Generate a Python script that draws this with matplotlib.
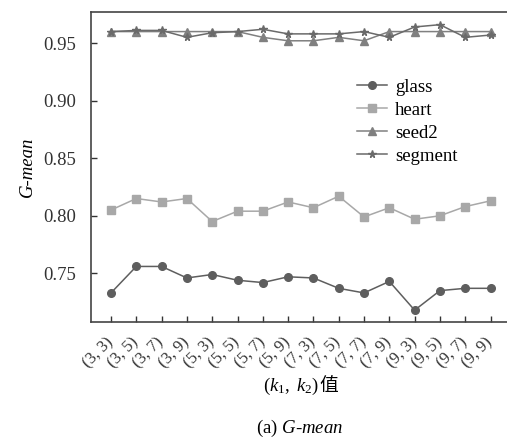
import matplotlib
matplotlib.use("Agg")
import matplotlib.pyplot as plt

plt.rcParams["font.family"] = ["Liberation Serif", "Noto Sans CJK SC"]
plt.rcParams["mathtext.fontset"] = "custom"
plt.rcParams["mathtext.rm"] = "Liberation Serif"
plt.rcParams["mathtext.it"] = "Liberation Serif:italic"

# (k1, k2) 組合
k_pairs = ["(3, 3)", "(3, 5)", "(3, 7)", "(3, 9)",
           "(5, 3)", "(5, 5)", "(5, 7)", "(5, 9)",
           "(7, 3)", "(7, 5)", "(7, 7)", "(7, 9)",
           "(9, 3)", "(9, 5)", "(9, 7)", "(9, 9)"]

glass = [0.733, 0.756, 0.756, 0.746, 0.749, 0.744, 0.742, 0.747,
         0.746, 0.737, 0.733, 0.743, 0.718, 0.735, 0.737, 0.737]
heart = [0.805, 0.815, 0.812, 0.815, 0.795, 0.804, 0.804, 0.812,
         0.807, 0.817, 0.799, 0.807, 0.797, 0.800, 0.808, 0.813]
seed2 = [0.960, 0.960, 0.960, 0.960, 0.960, 0.960, 0.955, 0.952,
         0.952, 0.955, 0.952, 0.960, 0.960, 0.960, 0.960, 0.960]
segment = [0.960, 0.961, 0.961, 0.955, 0.959, 0.960, 0.962, 0.958,
           0.958, 0.958, 0.960, 0.955, 0.964, 0.966, 0.955, 0.957]

fig = plt.figure(figsize=(5.07, 4.43), dpi=100)
ax = fig.add_axes([0.1795, 0.2738, 0.8205, 0.6991])

x = range(len(k_pairs))
ax.plot(x, glass, marker="o", ms=5.5, lw=1.1, color="#5e5e5e", label="glass")
ax.plot(x, heart, marker="s", ms=5.2, lw=1.1, color="#a8a8a8", label="heart")
ax.plot(x, seed2, marker="^", ms=5.5, lw=1.1, color="#808080", label="seed2")
ax.plot(x, segment, marker="*", ms=5.5, lw=1.1, color="#6a6a6a", label="segment")

ax.set_xlim(-0.79, 15.65)
ax.set_ylim(0.708, 0.977)
ax.set_yticks([0.75, 0.80, 0.85, 0.90, 0.95])
ax.set_yticklabels(["0.75", "0.80", "0.85", "0.90", "0.95"])
ax.set_xticks(list(x))
ax.set_xticklabels(k_pairs, rotation=45, ha="right", va="center",
                   rotation_mode="anchor")

ax.tick_params(direction="in", length=4, width=1, colors="#333333")
ax.tick_params(axis="y", labelsize=13.5, pad=11)
ax.tick_params(axis="x", labelsize=12, pad=13)
for s in ["left", "bottom", "top"]:
    ax.spines[s].set_color("#444444")
    ax.spines[s].set_linewidth(1.2)
ax.spines["right"].set_visible(False)

ax.set_ylabel("G-mean", fontsize=13.5, fontstyle="italic", labelpad=5)

# x 軸標題: 數學部分 + 中文分開畫
yl = 1 - 386 / 443
t1 = fig.text(0.59, yl, r"$(k_1,\ k_2)$", fontsize=13.5, ha="center", va="center")
fig.canvas.draw()
bb = t1.get_window_extent().transformed(fig.transFigure.inverted())
shift = 0.016
t1.set_x(0.59 - shift)
fig.text(bb.x1 - shift, yl, "值", fontsize=13.5, ha="left", va="center",
         family="Noto Sans CJK SC")

fig.text(0.59, 1 - 428 / 443, r"(a) $G$-$mean$", fontsize=13.5, ha="center", va="center")

ax.legend(loc="upper left", bbox_to_anchor=(0.6, 0.84), frameon=False,
          fontsize=13.5, handlelength=1.6, handletextpad=0.4, labelspacing=0.32)

fig.savefig("out.png", dpi=100)
